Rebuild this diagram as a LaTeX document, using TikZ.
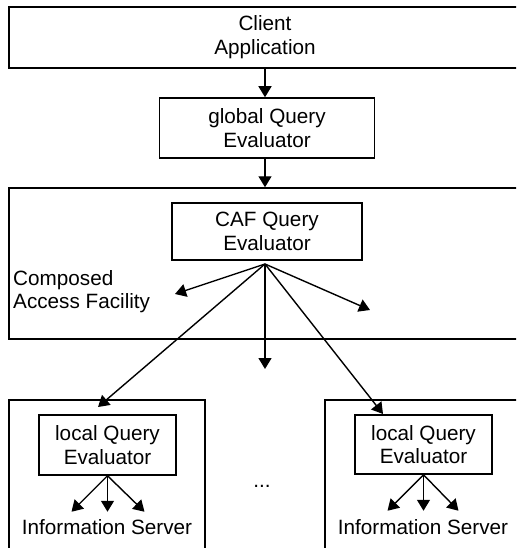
\documentclass[tikz,border=0pt]{standalone}
\usepackage{fontspec}
\setmainfont{Liberation Sans}
\usetikzlibrary{arrows.meta}

\begin{document}
\begin{tikzpicture}[x=1pt,y=-1pt,
  box/.style={draw=black, line width=1.5pt, rectangle, inner sep=0pt, align=center, font=\fontsize{20.7}{23.7}\selectfont},
  txt/.style={inner sep=0pt, align=left, font=\fontsize{20.7}{23.7}\selectfont},
  arr/.style={line width=1.4pt, -{Triangle[length=11pt,width=13pt]}}]
\clip (0,0) rectangle (516,548);
\node[box, minimum width=512pt, minimum height=61pt] (client) at (265,37.5) {Client\\Application};
\node[box, minimum width=215pt, minimum height=60pt] (gqe) at (267,128) {global Query\\Evaluator};
\node[box, minimum width=512pt, minimum height=151pt] (caf) at (265,263.5) {};
\node[box, minimum width=190pt, minimum height=57pt] (cqe) at (267,231.5) {CAF Query\\Evaluator};
\node[txt, anchor=west] (cafname) at (13,291.5) {Composed\\Access Facility};
\draw[arr] (client.south) -- (client.south |- gqe.north);
\draw[arr] (client.south |- gqe.south) -- (client.south |- caf.north);

\coordinate (fan) at (265,264);
\coordinate (fanl) at (175,294);
\coordinate (fanr) at (370,310);
\coordinate (fand) at (265,369);
\coordinate (toleft) at (98,407);
\coordinate (toright) at (383,414);
\foreach \tip in {fanl,fanr,fand,toleft,toright}
  \draw[arr] (fan) -- (\tip);

\node[box, minimum width=196pt, minimum height=160pt] (srv1) at (107,480) {};
\node[box, minimum width=137pt, minimum height=60pt] (lqe1) at (107.5,445) {local Query\\Evaluator};
\node[txt] (is1) at (107,527) {Information Server};
\foreach \dx in {-36,0,37}
  \draw[arr] (lqe1.south) -- ++(\dx,36);

\node[box, minimum width=197pt, minimum height=160pt] (srv2) at (423.5,480) {};
\node[box, minimum width=137pt, minimum height=59pt] (lqe2) at (423.5,444.5) {local Query\\Evaluator};
\node[txt] (is2) at (423,527) {Information Server};
\foreach \dx in {-36,0,35}
  \draw[arr] (lqe2.south) -- ++(\dx,36);

\node[txt, anchor=base] (dots) at (262,487) {...};
\end{tikzpicture}
\end{document}
